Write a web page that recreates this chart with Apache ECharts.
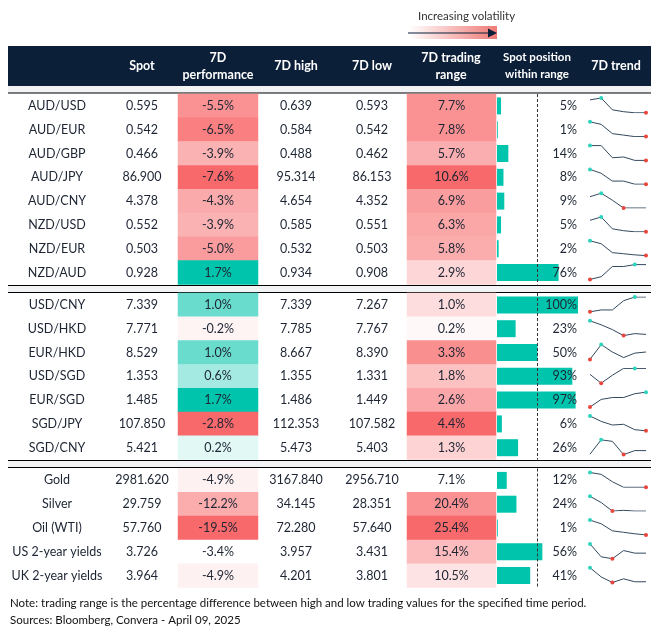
<!DOCTYPE html>
<html><head><meta charset="utf-8">
<script src="https://cdn.jsdelivr.net/npm/echarts@6/dist/echarts.min.js"></script>
<style>html,body{margin:0;background:#fff}#c{width:657px;height:631px}</style>
</head><body><div id="c"></div>
<script>
// ---- data ----
var pairs = ['AUD/USD','AUD/EUR','AUD/GBP','AUD/JPY','AUD/CNY','NZD/USD','NZD/EUR','NZD/AUD',
  'USD/CNY','USD/HKD','EUR/HKD','USD/SGD','EUR/SGD','SGD/JPY','SGD/CNY',
  'Gold','Silver','Oil (WTI)','US 2-year yields','UK 2-year yields'];
var spot = ['0.595','0.542','0.466','86.900','4.378','0.552','0.503','0.928',
  '7.339','7.771','8.529','1.353','1.485','107.850','5.421',
  '2981.620','29.759','57.760','3.726','3.964'];
var perf = [-5.5,-6.5,-3.9,-7.6,-4.3,-3.9,-5.0,1.7, 1.0,-0.2,1.0,0.6,1.7,-2.8,0.2, -4.9,-12.2,-19.5,-3.4,-4.9];
var high = ['0.639','0.584','0.488','95.314','4.654','0.585','0.532','0.934',
  '7.339','7.785','8.667','1.355','1.486','112.353','5.473',
  '3167.840','34.145','72.280','3.957','4.201'];
var low = ['0.593','0.542','0.462','86.153','4.352','0.551','0.503','0.908',
  '7.267','7.767','8.390','1.331','1.449','107.582','5.403',
  '2956.710','28.351','57.640','3.431','3.801'];
var range = [7.7,7.8,5.7,10.6,6.9,6.3,5.8,2.9, 1.0,0.2,3.3,1.8,2.6,4.4,1.3, 7.1,20.4,25.4,15.4,10.5];
var position = [5,1,14,8,9,5,2,76, 100,23,50,93,97,6,26, 12,24,1,56,41];
var trend = [
  [35,40,8,3,0,0],[40,33,8,4,0,0],[39,39,7,9,0,0],[38,28,8,8,0,0],[32,42,22,0,0,0],
  [31,40,8,3,0,0],[40,32,8,5,2,0],[0,7,34,34,39,39],
  [0,5,5,30,40,40],[37,27,15,0,5,3],[0,40,20,5,17,20],[22,0,20,37,37,37],
  [0,20,25,25,35,39],[41,26,16,18,3,0],[1,37,33,0,10,10],
  [40,35,15,0,0,0],[38,22,0,2,0,0],[40,30,11,7,3,0],[40,5,0,22,15,15],[40,15,0,10,2,2]];
var trendMax = [1,0,0,0,1,1,0,4, 4,0,1,4,5,0,1, 0,0,0,0,0];
var trendMin = [5,5,5,5,3,5,5,0, 0,3,0,1,0,5,3, 5,2,5,2,2];
var sections = [[0,8],[8,15],[15,20]];
var rangeFloor = [0,0,7.1];

// ---- layout ----
var sectionTop = [94, 293, 468.5];
var rowH = 23.8;
var TEAL = [0,196,172], RED = [248,105,107], WHITE = [255,255,255];
var INK = '#1d2533';
var FONT = 'Lato, sans-serif';

function mix(a, b, t) {
  t = Math.max(0, Math.min(1, t));
  return 'rgb(' + a.map(function (v, i) { return Math.round(v + (b[i] - v) * t); }).join(',') + ')';
}

var grids = [], xAxes = [], yAxes = [], series = [], graphics = [];
function addGrid(left, top, width, height, xa, ya) {
  grids.push({left: left, top: top, width: width, height: height});
  var i = grids.length - 1;
  xa.gridIndex = i; ya.gridIndex = i;
  xAxes.push(xa); yAxes.push(ya);
  return i;
}

sections.forEach(function (sec, s) {
  var a = sec[0], b = sec[1], n = b - a;
  var top = sectionTop[s], h = n * rowH;
  var rows = pairs.slice(a, b);
  var pv = perf.slice(a, b), rv = range.slice(a, b);
  var pMin = Math.min.apply(null, pv), pMax = Math.max.apply(null, pv);
  var mid = Math.min(0, pMax);
  var rMax = Math.max.apply(null, rv);

  function catY() { return {type: 'category', data: rows, inverse: true, show: false}; }
  function catX() { return {type: 'category', data: ['v'], show: false}; }

  // performance
  var g = addGrid(178, top, 80, h, catX(), catY());
  series.push({type: 'heatmap', xAxisIndex: g, yAxisIndex: g,
    label: {show: true, color: INK, fontFamily: FONT, fontSize: 12.5,
      formatter: function (p) { return p.data.value[2].toFixed(1) + '%'; }},
    data: pv.map(function (v, i) {
      var c = v >= mid ? mix(WHITE, TEAL, pMax > mid ? (v - mid) / (pMax - mid) : 0)
                       : mix(WHITE, RED, (v - mid) / (pMin - mid));
      return {value: [0, i, v], itemStyle: {color: c}};
    })});

  // trading range
  g = addGrid(407, top, 89, h, catX(), catY());
  series.push({type: 'heatmap', xAxisIndex: g, yAxisIndex: g,
    label: {show: true, color: INK, fontFamily: FONT, fontSize: 12.5,
      formatter: function (p) { return p.data.value[2].toFixed(1) + '%'; }},
    data: rv.map(function (v, i) {
      return {value: [0, i, v], itemStyle: {color: mix(WHITE, RED, (v - rangeFloor[s]) / (rMax - rangeFloor[s]))}};
    })});

  // spot position within range
  g = addGrid(497, top, 81, h, {type: 'value', min: 0, max: 100, show: false}, catY());
  series.push({type: 'bar', xAxisIndex: g, yAxisIndex: g, barWidth: 17,
    itemStyle: {color: '#00c4ac'}, data: position.slice(a, b), silent: true,
    markLine: {silent: true, symbol: 'none', label: {show: false},
      lineStyle: {color: '#333', type: [3, 2], width: 1}, data: [{xAxis: 50}]}});
  series.push({type: 'bar', xAxisIndex: g, yAxisIndex: g, barWidth: 17, barGap: '-100%',
    itemStyle: {color: 'rgba(0,0,0,0)'}, silent: true,
    label: {show: true, position: 'insideRight', distance: 1, color: INK, fontFamily: FONT, fontSize: 12.5,
      formatter: function (p) { return position[a + p.dataIndex] + '%'; }},
    data: rows.map(function () { return 100; })});

  // text columns and trend lines
  rows.forEach(function (name, i) {
    var k = a + i, cy = top + (i + 0.5) * rowH;
    [[57, name], [142, spot[k]], [296, high[k]], [372, low[k]]].forEach(function (c) {
      graphics.push({type: 'text', x: c[0], y: cy,
        style: {text: c[1], fill: INK, font: '12.5px ' + FONT, textAlign: 'center', textVerticalAlign: 'middle'}});
    });
    var gi = addGrid(590, top + i * rowH + 4, 56, rowH - 9,
      {type: 'category', data: ['1','2','3','4','5','6'], show: false, boundaryGap: false},
      {type: 'value', scale: true, show: false, min: 'dataMin', max: 'dataMax'});
    series.push({type: 'line', xAxisIndex: gi, yAxisIndex: gi, silent: true,
      lineStyle: {color: '#34495e', width: 1}, symbol: 'circle', symbolSize: 0,
      showAllSymbol: true,
      data: trend[k].map(function (v, j) {
        if (j === trendMax[k]) return {value: v, symbolSize: 4, itemStyle: {color: '#2ed3bd'}};
        if (j === trendMin[k]) return {value: v, symbolSize: 4, itemStyle: {color: '#e8453c'}};
        return {value: v};
      })});
  });
});

// header, separators, notes
graphics.unshift(
  {type: 'rect', shape: {x: 8, y: 46, width: 643, height: 40}, style: {fill: '#0b1f38'}, z: -1},
  {type: 'rect', shape: {x: 8, y: 86, width: 643, height: 7}, style: {fill: '#f1f3f4'}, z: -1},
  {type: 'rect', shape: {x: 8, y: 286, width: 643, height: 6}, style: {fill: '#f1f3f4'}, z: -1},
  {type: 'rect', shape: {x: 8, y: 461, width: 643, height: 6.5}, style: {fill: '#f1f3f4'}, z: -1}
);
[93, 285.5, 292.5, 460.5, 467.5].forEach(function (y) {
  graphics.push({type: 'line', shape: {x1: 8, y1: y, x2: 651, y2: y}, style: {stroke: '#000', lineWidth: 1.2}});
});
[[142, 'Spot'], [218, '7D\nperformance'], [296, '7D high'], [372, '7D low'],
 [451, '7D trading\nrange'], [537, 'Spot position\nwithin range'], [616, '7D trend']].forEach(function (h) {
  var small = h[1].indexOf('Spot position') === 0;
  graphics.push({type: 'text', x: h[0], y: 66, z: 5,
    style: {text: h[1], fill: '#fff', font: 'bold ' + (small ? 11.5 : 12.5) + 'px ' + FONT,
      textAlign: 'center', textVerticalAlign: 'middle', lineHeight: 17}});
});
graphics.push(
  {type: 'text', x: 418, y: 16, style: {text: 'Increasing volatility', fill: '#333', font: '11.5px ' + FONT, textVerticalAlign: 'middle'}},
  {type: 'rect', shape: {x: 409, y: 26, width: 88, height: 13},
    style: {fill: new echarts.graphic.LinearGradient(0, 0, 1, 0, [{offset: 0, color: '#fff'}, {offset: 1, color: '#ef7a76'}])}},
  {type: 'line', shape: {x1: 408, y1: 33, x2: 488, y2: 33}, style: {stroke: '#0b1f38', lineWidth: 1.2}},
  {type: 'polygon', shape: {points: [[488, 28.5], [497, 33], [488, 37.5]]}, style: {fill: '#0b1f38'}},
  {type: 'text', x: 10, y: 603, style: {text: 'Note: trading range is the percentage difference between high and low trading values for the specified time period.', fill: '#111', font: '11.5px ' + FONT, textVerticalAlign: 'middle'}},
  {type: 'text', x: 10, y: 620, style: {text: 'Sources: Bloomberg, Convera - April 09, 2025', fill: '#111', font: '11.5px ' + FONT, textVerticalAlign: 'middle'}}
);

var chart = echarts.init(document.getElementById('c'), null, {renderer: 'canvas'});
chart.setOption({
  animation: false,
  grid: grids, xAxis: xAxes, yAxis: yAxes, series: series,
  graphic: {elements: graphics}
});
</script></body></html>
